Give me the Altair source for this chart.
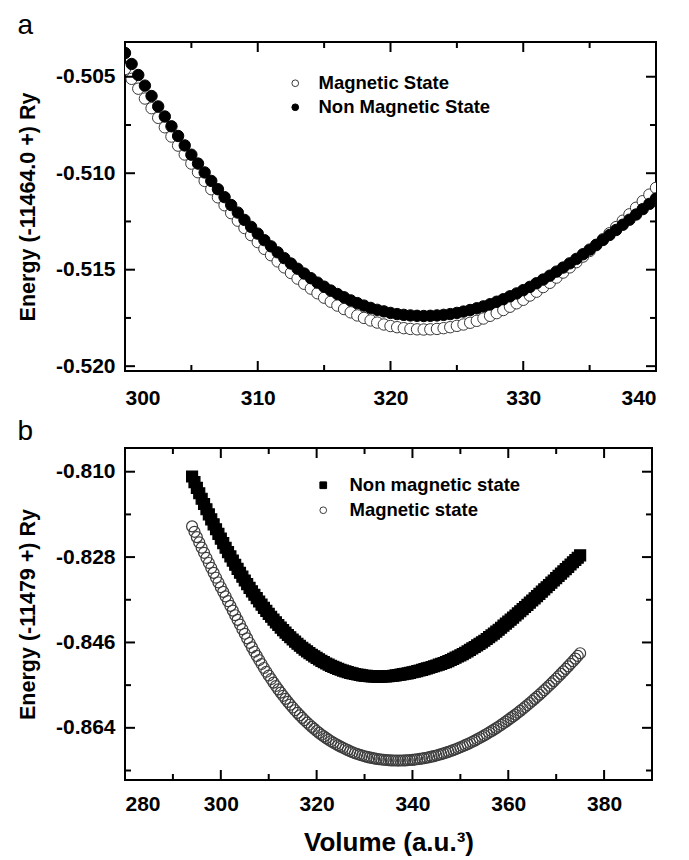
import altair as alt
import pandas as pd

# ---------------- Panel a ----------------
a_volume = [300.0, 300.5, 301.0, 301.5, 302.0, 302.5, 303.0, 303.5, 304.0, 304.5,
            305.0, 305.5, 306.0, 306.5, 307.0, 307.5, 308.0, 308.5, 309.0, 309.5,
            310.0, 310.5, 311.0, 311.5, 312.0, 312.5, 313.0, 313.5, 314.0, 314.5,
            315.0, 315.5, 316.0, 316.5, 317.0, 317.5, 318.0, 318.5, 319.0, 319.5,
            320.0, 320.5, 321.0, 321.5, 322.0, 322.5, 323.0, 323.5, 324.0, 324.5,
            325.0, 325.5, 326.0, 326.5, 327.0, 327.5, 328.0, 328.5, 329.0, 329.5,
            330.0, 330.5, 331.0, 331.5, 332.0, 332.5, 333.0, 333.5, 334.0, 334.5,
            335.0, 335.5, 336.0, 336.5, 337.0, 337.5, 338.0, 338.5, 339.0, 339.5,
            340.0]
a_magnetic = [-0.50460, -0.50511, -0.50562, -0.50613, -0.50663, -0.50713, -0.50762, -0.50810, -0.50857, -0.50903,
              -0.50950, -0.50995, -0.51040, -0.51083, -0.51125, -0.51166, -0.51207, -0.51246, -0.51284, -0.51321,
              -0.51357, -0.51392, -0.51425, -0.51457, -0.51488, -0.51517, -0.51546, -0.51573, -0.51598, -0.51622,
              -0.51645, -0.51666, -0.51686, -0.51704, -0.51721, -0.51737, -0.51750, -0.51763, -0.51774, -0.51784,
              -0.51792, -0.51798, -0.51803, -0.51807, -0.51809, -0.51810, -0.51809, -0.51807, -0.51803, -0.51798,
              -0.51791, -0.51784, -0.51775, -0.51765, -0.51753, -0.51739, -0.51725, -0.51709, -0.51692, -0.51674,
              -0.51656, -0.51634, -0.51614, -0.51590, -0.51568, -0.51541, -0.51515, -0.51488, -0.51461, -0.51432,
              -0.51403, -0.51373, -0.51342, -0.51311, -0.51279, -0.51246, -0.51213, -0.51179, -0.51145, -0.51111,
              -0.51076]
a_nonmagnetic = [-0.50377, -0.50434, -0.50491, -0.50546, -0.50600, -0.50654, -0.50706, -0.50757, -0.50807, -0.50856,
                 -0.50904, -0.50950, -0.50996, -0.51040, -0.51083, -0.51124, -0.51165, -0.51204, -0.51242, -0.51278,
                 -0.51313, -0.51347, -0.51379, -0.51410, -0.51440, -0.51468, -0.51495, -0.51520, -0.51544, -0.51567,
                 -0.51588, -0.51608, -0.51626, -0.51643, -0.51659, -0.51673, -0.51686, -0.51698, -0.51708, -0.51716,
                 -0.51724, -0.51730, -0.51734, -0.51737, -0.51739, -0.51740, -0.51739, -0.51737, -0.51734, -0.51730,
                 -0.51724, -0.51717, -0.51709, -0.51700, -0.51690, -0.51679, -0.51666, -0.51653, -0.51638, -0.51623,
                 -0.51606, -0.51589, -0.51570, -0.51551, -0.51531, -0.51510, -0.51489, -0.51467, -0.51444, -0.51420,
                 -0.51396, -0.51371, -0.51346, -0.51320, -0.51294, -0.51267, -0.51241, -0.51214, -0.51186, -0.51159,
                 -0.51131]
a_states = ["Magnetic State", "Non Magnetic State"]
a_x_labels = [300, 310, 320, 330, 340]
a_x_minor = [305, 315, 325, 335]
a_y_labels = [-0.505, -0.510, -0.515, -0.520]
a_y_minor = [-0.5075, -0.5125, -0.5175]

# ---------------- Panel b ----------------
b_volume = [294.0, 294.5, 295.0, 295.5, 296.0, 296.5, 297.0, 297.5, 298.0, 298.5,
            299.0, 299.5, 300.0, 300.5, 301.0, 301.5, 302.0, 302.5, 303.0, 303.5,
            304.0, 304.5, 305.0, 305.5, 306.0, 306.5, 307.0, 307.5, 308.0, 308.5,
            309.0, 309.5, 310.0, 310.5, 311.0, 311.5, 312.0, 312.5, 313.0, 313.5,
            314.0, 314.5, 315.0, 315.5, 316.0, 316.5, 317.0, 317.5, 318.0, 318.5,
            319.0, 319.5, 320.0, 320.5, 321.0, 321.5, 322.0, 322.5, 323.0, 323.5,
            324.0, 324.5, 325.0, 325.5, 326.0, 326.5, 327.0, 327.5, 328.0, 328.5,
            329.0, 329.5, 330.0, 330.5, 331.0, 331.5, 332.0, 332.5, 333.0, 333.5,
            334.0, 334.5, 335.0, 335.5, 336.0, 336.5, 337.0, 337.5, 338.0, 338.5,
            339.0, 339.5, 340.0, 340.5, 341.0, 341.5, 342.0, 342.5, 343.0, 343.5,
            344.0, 344.5, 345.0, 345.5, 346.0, 346.5, 347.0, 347.5, 348.0, 348.5,
            349.0, 349.5, 350.0, 350.5, 351.0, 351.5, 352.0, 352.5, 353.0, 353.5,
            354.0, 354.5, 355.0, 355.5, 356.0, 356.5, 357.0, 357.5, 358.0, 358.5,
            359.0, 359.5, 360.0, 360.5, 361.0, 361.5, 362.0, 362.5, 363.0, 363.5,
            364.0, 364.5, 365.0, 365.5, 366.0, 366.5, 367.0, 367.5, 368.0, 368.5,
            369.0, 369.5, 370.0, 370.5, 371.0, 371.5, 372.0, 372.5, 373.0, 373.5,
            374.0, 374.5, 375.0]
b_nonmagnetic = [-0.81101, -0.81221, -0.81340, -0.81455, -0.81570, -0.81681, -0.81792, -0.81899, -0.82006, -0.82110,
                 -0.82213, -0.82312, -0.82411, -0.82507, -0.82603, -0.82695, -0.82786, -0.82874, -0.82962, -0.83047,
                 -0.83131, -0.83212, -0.83293, -0.83371, -0.83448, -0.83522, -0.83595, -0.83666, -0.83736, -0.83803,
                 -0.83870, -0.83934, -0.83997, -0.84058, -0.84118, -0.84175, -0.84232, -0.84287, -0.84341, -0.84392,
                 -0.84442, -0.84490, -0.84538, -0.84583, -0.84627, -0.84669, -0.84711, -0.84750, -0.84788, -0.84824,
                 -0.84860, -0.84893, -0.84925, -0.84956, -0.84987, -0.85016, -0.85044, -0.85069, -0.85093, -0.85115,
                 -0.85137, -0.85157, -0.85176, -0.85194, -0.85211, -0.85226, -0.85240, -0.85253, -0.85265, -0.85275,
                 -0.85285, -0.85293, -0.85301, -0.85306, -0.85311, -0.85315, -0.85318, -0.85319, -0.85320, -0.85319,
                 -0.85318, -0.85315, -0.85312, -0.85307, -0.85302, -0.85295, -0.85287, -0.85278, -0.85269, -0.85260,
                 -0.85251, -0.85240, -0.85229, -0.85217, -0.85204, -0.85191, -0.85177, -0.85162, -0.85147, -0.85133,
                 -0.85118, -0.85102, -0.85086, -0.85069, -0.85052, -0.85033, -0.85014, -0.84992, -0.84969, -0.84945,
                 -0.84921, -0.84896, -0.84871, -0.84845, -0.84818, -0.84788, -0.84757, -0.84726, -0.84695, -0.84663,
                 -0.84630, -0.84597, -0.84564, -0.84527, -0.84489, -0.84452, -0.84414, -0.84373, -0.84332, -0.84289,
                 -0.84246, -0.84204, -0.84162, -0.84119, -0.84075, -0.84031, -0.83987, -0.83942, -0.83897, -0.83852,
                 -0.83806, -0.83761, -0.83715, -0.83669, -0.83622, -0.83576, -0.83529, -0.83482, -0.83435, -0.83388,
                 -0.83340, -0.83293, -0.83245, -0.83197, -0.83149, -0.83101, -0.83053, -0.83005, -0.82957, -0.82909,
                 -0.82861, -0.82813, -0.82764]
b_magnetic = [-0.82153, -0.82267, -0.82380, -0.82491, -0.82602, -0.82710, -0.82818, -0.82924, -0.83029, -0.83132,
              -0.83235, -0.83335, -0.83435, -0.83533, -0.83630, -0.83730, -0.83829, -0.83928, -0.84026, -0.84124,
              -0.84222, -0.84320, -0.84417, -0.84514, -0.84611, -0.84703, -0.84795, -0.84883, -0.84971, -0.85055,
              -0.85138, -0.85218, -0.85297, -0.85372, -0.85447, -0.85519, -0.85590, -0.85658, -0.85725, -0.85789,
              -0.85852, -0.85912, -0.85972, -0.86029, -0.86085, -0.86138, -0.86190, -0.86240, -0.86289, -0.86335,
              -0.86380, -0.86423, -0.86466, -0.86506, -0.86545, -0.86581, -0.86617, -0.86650, -0.86683, -0.86713,
              -0.86742, -0.86769, -0.86796, -0.86821, -0.86846, -0.86871, -0.86895, -0.86915, -0.86935, -0.86952,
              -0.86969, -0.86984, -0.86999, -0.87012, -0.87024, -0.87035, -0.87045, -0.87054, -0.87062, -0.87068,
              -0.87074, -0.87079, -0.87083, -0.87086, -0.87088, -0.87089, -0.87090, -0.87089, -0.87088, -0.87086,
              -0.87083, -0.87079, -0.87075, -0.87069, -0.87063, -0.87056, -0.87048, -0.87039, -0.87030, -0.87019,
              -0.87008, -0.86996, -0.86983, -0.86969, -0.86955, -0.86940, -0.86924, -0.86907, -0.86889, -0.86870,
              -0.86851, -0.86831, -0.86810, -0.86788, -0.86766, -0.86743, -0.86719, -0.86694, -0.86669, -0.86642,
              -0.86615, -0.86588, -0.86560, -0.86530, -0.86500, -0.86469, -0.86438, -0.86406, -0.86373, -0.86339,
              -0.86304, -0.86269, -0.86233, -0.86196, -0.86159, -0.86121, -0.86082, -0.86042, -0.86002, -0.85961,
              -0.85920, -0.85877, -0.85834, -0.85790, -0.85746, -0.85701, -0.85655, -0.85608, -0.85561, -0.85513,
              -0.85464, -0.85415, -0.85365, -0.85314, -0.85262, -0.85210, -0.85158, -0.85104, -0.85050, -0.84995,
              -0.84940, -0.84884, -0.84827]
b_states = ["Non magnetic state", "Magnetic state"]
b_x_labels = [280, 300, 320, 340, 360, 380]
b_x_minor = [290, 310, 330, 350, 370, 390]
b_y_labels = [-0.810, -0.828, -0.846, -0.864]
b_y_minor = [-0.819, -0.837, -0.855, -0.873]

FONT = "Liberation Sans"
MINUS_FIX = "replace(format(datum.value, '.3f'), '\u2212', '-')"


def inside_ticks(xmaj, xmin, ymaj, ymin, xdom, ydom, W, H):
    """Tick marks drawn inside the frame on all four sides, placed by the data scales."""
    layers = []
    for vals, L in [(xmaj, 10), (xmin, 6)]:
        df = pd.DataFrame({"Volume": vals})
        base = alt.Chart(df).mark_rule(color="black", strokeWidth=2)
        xe = alt.X("Volume:Q", scale=alt.Scale(domain=xdom, nice=False, zero=False))
        layers.append(base.encode(x=xe, y=alt.value(H), y2=alt.value(H - L)))
        layers.append(base.encode(x=xe, y=alt.value(0), y2=alt.value(L)))
    for vals, L in [(ymaj, 10), (ymin, 6)]:
        df = pd.DataFrame({"Energy": vals})
        base = alt.Chart(df).mark_rule(color="black", strokeWidth=2)
        ye = alt.Y("Energy:Q", scale=alt.Scale(domain=ydom, nice=False, zero=False))
        layers.append(base.encode(y=ye, x=alt.value(0), x2=alt.value(L)))
        layers.append(base.encode(y=ye, x=alt.value(W), x2=alt.value(W - L)))
    return layers


# ---- panel a chart ----
AW, AH = 531, 329
a_xdom = [300, 340]
a_ydom = [-0.52025, -0.5032]
a_df = pd.DataFrame({
    "Volume": a_volume + a_volume,
    "Energy": a_magnetic + a_nonmagnetic,
    "State": [a_states[0]] * len(a_volume) + [a_states[1]] * len(a_volume),
})
leg_a = alt.Legend(orient="none", legendX=161, legendY=32, title=None, labelOffset=14,
                   rowPadding=5, symbolSize=45, padding=0, labelLimit=400)
a_points = alt.Chart(a_df).mark_point(filled=True, opacity=1, size=130, strokeWidth=1, clip=True).encode(
    x=alt.X("Volume:Q", scale=alt.Scale(domain=a_xdom, nice=False, zero=False),
            axis=alt.Axis(values=a_x_labels, title=None, format="d", labelPadding=16)),
    y=alt.Y("Energy:Q", scale=alt.Scale(domain=a_ydom, nice=False, zero=False),
            axis=alt.Axis(values=a_y_labels, title="Energy (-11464.0 +) Ry", labelExpr=MINUS_FIX)),
    fill=alt.Fill("State:N", scale=alt.Scale(domain=a_states, range=["white", "black"]), legend=leg_a),
    stroke=alt.Stroke("State:N", scale=alt.Scale(domain=a_states, range=["#3a3a3a", "black"]), legend=leg_a),
    shape=alt.Shape("State:N", scale=alt.Scale(domain=a_states, range=["circle", "circle"]), legend=leg_a),
)
panel_a = alt.layer(a_points, *inside_ticks(a_x_labels, a_x_minor, a_y_labels, a_y_minor, a_xdom, a_ydom, AW, AH)).properties(
    width=AW, height=AH,
    title=alt.TitleParams("a", anchor="start", frame="bounds", fontSize=28, fontWeight="normal",
                          font=FONT, color="black", offset=1),
)

# ---- panel b chart ----
BW, BH = 527, 332
b_xdom = [280, 390]
b_ydom = [-0.875, -0.805]
b_df = pd.DataFrame({
    "Volume": b_volume + b_volume,
    "Energy": b_nonmagnetic + b_magnetic,
    "State": [b_states[0]] * len(b_volume) + [b_states[1]] * len(b_volume),
})
leg_b = alt.Legend(orient="none", legendX=189, legendY=28, title=None, labelOffset=17,
                   rowPadding=6, symbolSize=45, padding=0, labelLimit=400)
b_points = alt.Chart(b_df).mark_point(filled=True, opacity=1, size=120, strokeWidth=1.2, clip=True).encode(
    x=alt.X("Volume:Q", scale=alt.Scale(domain=b_xdom, nice=False, zero=False),
            axis=alt.Axis(values=b_x_labels, title="Volume (a.u.\u00b3)", format="d", labelPadding=13,
                          titleFontSize=26, titlePadding=15)),
    y=alt.Y("Energy:Q", scale=alt.Scale(domain=b_ydom, nice=False, zero=False),
            axis=alt.Axis(values=b_y_labels, title="Energy (-11479 +) Ry", labelExpr=MINUS_FIX)),
    fill=alt.Fill("State:N", scale=alt.Scale(domain=b_states, range=["black", "transparent"]), legend=leg_b),
    stroke=alt.Stroke("State:N", scale=alt.Scale(domain=b_states, range=["black", "#3c3c3c"]), legend=leg_b),
    shape=alt.Shape("State:N", scale=alt.Scale(domain=b_states, range=["square", "circle"]), legend=leg_b),
)
panel_b = alt.layer(b_points, *inside_ticks(b_x_labels, b_x_minor, b_y_labels, b_y_minor, b_xdom, b_ydom, BW, BH)).properties(
    width=BW, height=BH,
    title=alt.TitleParams("b", anchor="start", frame="bounds", fontSize=28, fontWeight="normal",
                          font=FONT, color="black", offset=1),
)

chart = alt.vconcat(panel_a, panel_b, spacing=8).properties(
    padding={"left": 8, "top": 3, "right": 5, "bottom": 0}
).resolve_scale(
    fill="independent", stroke="independent", shape="independent"
).resolve_legend(
    fill="independent", stroke="independent", shape="independent"
).configure_view(
    stroke="black", strokeWidth=2
).configure_axis(
    labelFont=FONT, labelFontSize=21, labelFontWeight="bold", labelColor="black",
    titleFont=FONT, titleFontSize=21.5, titleFontWeight="bold", titleColor="black",
    ticks=False, domain=False, grid=False,
).configure_axisY(
    labelPadding=10, titlePadding=16,
).configure_legend(
    labelFont=FONT, labelFontSize=18.5, labelFontWeight="bold", labelColor="black",
    symbolStrokeWidth=1, labelLimit=400,
)

chart.save("out.html", embed_options={"renderer": "svg", "actions": False})
